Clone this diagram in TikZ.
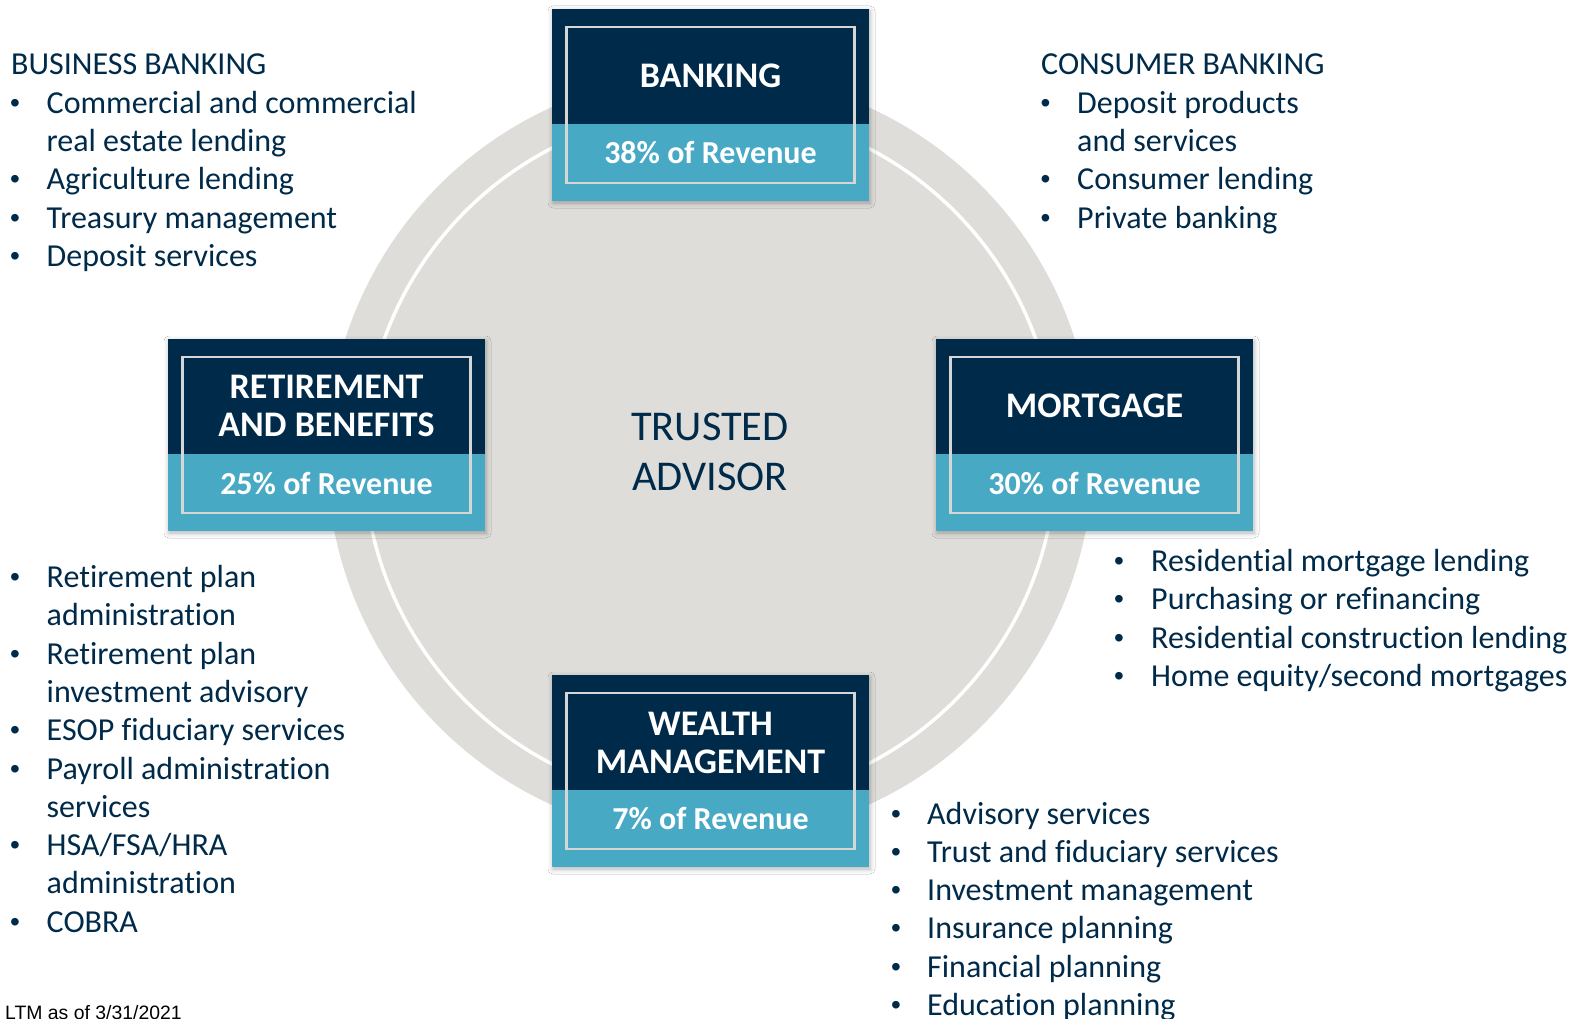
\documentclass[tikz,border=0pt]{standalone}
\usepackage{fontspec}
\setmainfont{Carlito}[Ligatures=CommonOff]
\newfontfamily\arialfont{Liberation Sans}
\usetikzlibrary{shadows.blur}
\definecolor{navy}{RGB}{0,42,73}
\definecolor{lblue}{RGB}{72,169,197}
\definecolor{cgray}{RGB}{222,221,217}
\definecolor{framec}{RGB}{214,214,214}
\tikzset{
  boxbase/.style={rectangle, fill=navy, minimum width=317pt, minimum height=192pt, inner sep=0pt, outer sep=0pt,
    blur shadow={shadow xshift=1pt, shadow yshift=-2pt, shadow blur radius=5pt, shadow opacity=30}},
  boxlow/.style={rectangle, fill=lblue, minimum width=317pt, minimum height=77pt, inner sep=0pt, outer sep=0pt},
  boxframe/.style={rectangle, draw=framec, line width=2.5pt, minimum width=288pt, minimum height=156pt, inner sep=0pt},
  btitle/.style={anchor=base, inner sep=0pt, text=white, font=\fontsize{36}{38}\selectfont\bfseries},
  brev/.style={anchor=base, inner sep=0pt, text=white, font=\fontsize{32}{38}\selectfont\bfseries},
  ltxt/.style={anchor=base west, inner sep=0pt, text=navy, font=\fontsize{32}{38}\selectfont},
  bul/.style={anchor=base west, inner sep=0pt, text=navy, font=\arialfont\fontsize{28}{38}\selectfont},
}
\newcommand\segbox[3]{%
  \node[boxbase] (#1) at ({#2},{#3+96}) {};
  \node[boxlow] (#1low) at ({#2},{#3+153.5}) {};
  \node[boxframe] (#1frame) at ({#2},{#3+96}) {};
}
\begin{document}
\begin{tikzpicture}[x=1pt,y=-1pt]
\useasboundingbox[fill=white] (0,0) rectangle (1585,1019);
% central disk
\node[circle, fill=cgray, minimum size=766pt, inner sep=0pt] (disk) at (710,456) {};
\node[circle, draw=white, line width=3.5pt, minimum size=692pt, inner sep=0pt] (ring) at (710,456) {};
\node[anchor=base, inner sep=0pt, text=navy, font=\fontsize{42.4}{51}\selectfont] (trusted) at (710,440) {TRUSTED};
\node[anchor=base, inner sep=0pt, text=navy, font=\fontsize{42.4}{51}\selectfont] (advisor) at (710,490.7) {ADVISOR};

% boxes
\segbox{bank}{710.5}{9}
\node[btitle] (banktitle) at (710.5,87.3) {BANKING};
\node[brev] (bankrev) at (710.5,164) {38\% of Revenue};

\segbox{ret}{326.5}{339}
\node[btitle] (rett1) at (326.5,398.3) {RETIREMENT};
\node[btitle] (rett2) at (326.5,436) {AND BENEFITS};
\node[brev] (retrev) at (326.5,494) {25\% of Revenue};

\segbox{mort}{1094.5}{339}
\node[btitle] (morttitle) at (1094.5,417.5) {MORTGAGE};
\node[brev] (mortrev) at (1094.5,494) {30\% of Revenue};

\segbox{wealth}{710.5}{675}
\node[btitle] (wt1) at (710.5,735) {WEALTH};
\node[btitle] (wt2) at (710.5,773.3) {MANAGEMENT};
\node[brev] (wrev) at (710.5,829.3) {7\% of Revenue};

% business banking
\node[ltxt] (bbh) at (11,75) {BUSINESS BANKING};
\node[bul] (bbb1) at (10,112.3) {•};
\node[ltxt] (bb1) at (46.5,113.3) {Commercial and commercial};
\node[ltxt] (bb1b) at (46.5,151.6) {real estate lending};
\node[bul] (bbb2) at (10,188.9) {•};
\node[ltxt] (bb2) at (46.5,189.9) {Agriculture lending};
\node[bul] (bbb3) at (10,227.2) {•};
\node[ltxt] (bb3) at (46.5,228.2) {Treasury management};
\node[bul] (bbb4) at (10,265.5) {•};
\node[ltxt] (bb4) at (46.5,266.5) {Deposit services};

% consumer banking
\node[ltxt] (cbh) at (1041,75) {CONSUMER BANKING};
\node[bul] (cbb1) at (1040.5,112.3) {•};
\node[ltxt] (cb1) at (1077,113.3) {Deposit products};
\node[ltxt] (cb1b) at (1077,151.6) {and services};
\node[bul] (cbb2) at (1040.5,188.9) {•};
\node[ltxt] (cb2) at (1077,189.9) {Consumer lending};
\node[bul] (cbb3) at (1040.5,227.2) {•};
\node[ltxt] (cb3) at (1077,228.2) {Private banking};

% retirement list
\node[bul] (rb1) at (10,586.5) {•};
\node[ltxt] (r1) at (46.5,587.5) {Retirement plan};
\node[ltxt] (r1b) at (46.5,625.8) {administration};
\node[bul] (rb2) at (10,663.1) {•};
\node[ltxt] (r2) at (46.5,664.1) {Retirement plan};
\node[ltxt] (r2b) at (46.5,702.4) {investment advisory};
\node[bul] (rb3) at (10,739.7) {•};
\node[ltxt] (r3) at (46.5,740.7) {ESOP fiduciary services};
\node[bul] (rb4) at (10,778) {•};
\node[ltxt] (r4) at (46.5,779) {Payroll administration};
\node[ltxt] (r4b) at (46.5,817.3) {services};
\node[bul] (rb5) at (10,854.6) {•};
\node[ltxt] (r5) at (46.5,855.6) {HSA/FSA/HRA};
\node[ltxt] (r5b) at (46.5,893.9) {administration};
\node[bul] (rb6) at (10,931.2) {•};
\node[ltxt] (r6) at (46.5,932.2) {COBRA};

% mortgage list
\node[bul] (mb1) at (1114,570.5) {•};
\node[ltxt] (m1) at (1151,571.5) {Residential mortgage lending};
\node[bul] (mb2) at (1114,608.8) {•};
\node[ltxt] (m2) at (1151,609.8) {Purchasing or refinancing};
\node[bul] (mb3) at (1114,647.1) {•};
\node[ltxt] (m3) at (1151,648.1) {Residential construction lending};
\node[bul] (mb4) at (1114,685.4) {•};
\node[ltxt] (m4) at (1151,686.4) {Home equity/second mortgages};

% wealth list
\node[bul] (wb1) at (891,823) {•};
\node[ltxt] (w1) at (927,824) {Advisory services};
\node[bul] (wb2) at (891,861.3) {•};
\node[ltxt] (w2) at (927,862.3) {Trust and fiduciary services};
\node[bul] (wb3) at (891,899.6) {•};
\node[ltxt] (w3) at (927,900.6) {Investment management};
\node[bul] (wb4) at (891,937.9) {•};
\node[ltxt] (w4) at (927,938.9) {Insurance planning};
\node[bul] (wb5) at (891,976.2) {•};
\node[ltxt] (w5) at (927,977.2) {Financial planning};
\node[bul] (wb6) at (891,1014.5) {•};
\node[ltxt] (w6) at (927,1015.5) {Education planning};

% footnote
\node[anchor=base west, inner sep=0pt, text=black, font=\arialfont\fontsize{19.4}{22}\selectfont] (note) at (5,1019.5) {LTM as of 3/31/2021};
\end{tikzpicture}
\end{document}
